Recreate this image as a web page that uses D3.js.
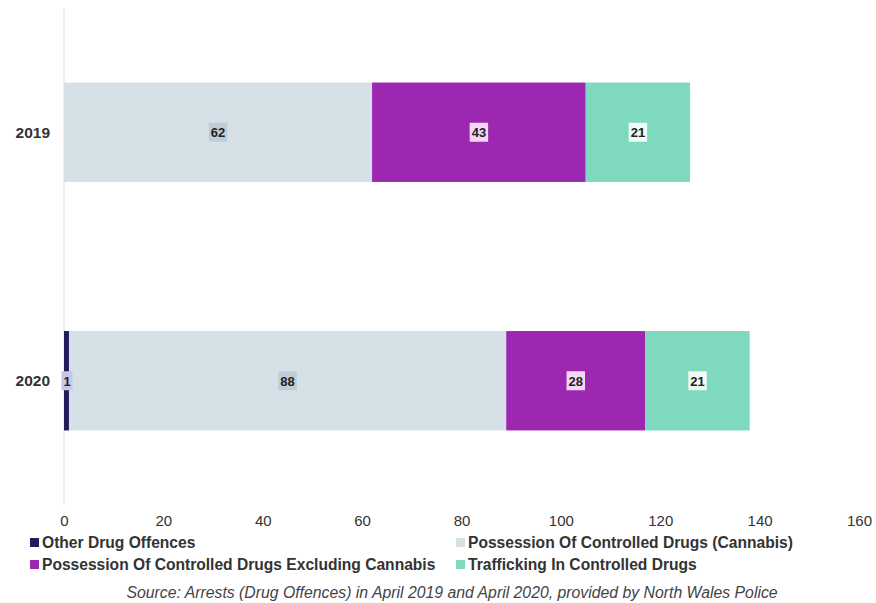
<!DOCTYPE html>
<html><head><meta charset="utf-8">
<script src="https://cdn.jsdelivr.net/npm/d3@7"></script>
<style>body{margin:0;background:#fff}</style>
</head><body>
<svg id="c" width="876" height="603"></svg>
<script>
const years = ["2019", "2020"];
const seriesNames = ["Other Drug Offences", "Possession Of Controlled Drugs (Cannabis)", "Possession Of Controlled Drugs Excluding Cannabis", "Trafficking In Controlled Drugs"];
const otherDrug = [0, 1];
const cannabis = [62, 88];
const excludingCannabis = [43, 28];
const trafficking = [21, 21];
const xTicks = [0, 20, 40, 60, 80, 100, 120, 140, 160];
const colors = ["#211c5c", "#d6e1e7", "#9c27b0", "#7ed9bf"];
const labelBg = ["#cac8ea", "#bfcdd7", "#f4d6f7", "#eefaf6"];
const sourceText = "Source: Arrests (Drug Offences) in April 2019 and April 2020, provided by North Wales Police";

const svg = d3.select("#c");
const x = d3.scaleLinear().domain([0, 160]).range([64, 859]);
const y = d3.scaleBand().domain(years).range([8, 505]).paddingInner(0.6).paddingOuter(0.3);

const table = years.map((yr, i) => ({year: yr, v: [otherDrug[i], cannabis[i], excludingCannabis[i], trafficking[i]]}));
const stack = d3.stack().keys([0,1,2,3]).value((d, k) => d.v[k])(table);

svg.append("line").attr("x1", x(0)).attr("x2", x(0)).attr("y1", 8).attr("y2", 505)
  .attr("stroke", "#e3e6ea").attr("stroke-width", 1.5);

stack.forEach((layer, k) => {
  svg.append("g").selectAll("rect").data(layer).join("rect")
    .attr("x", d => x(d[0])).attr("width", d => x(d[1]) - x(d[0]))
    .attr("y", d => y(d.data.year)).attr("height", y.bandwidth())
    .attr("fill", colors[k]);
});

stack.forEach((layer, k) => {
  layer.forEach(d => {
    const val = d[1] - d[0];
    if (!val) return;
    const cx = Math.max((x(d[0]) + x(d[1])) / 2, x(0) + 3);
    const cy = y(d.data.year) + y.bandwidth() / 2;
    const g = svg.append("g");
    const t = g.append("text").attr("x", cx).attr("y", cy + 5).attr("text-anchor", "middle")
      .attr("font-family", "Liberation Sans, Arial, sans-serif").attr("font-weight", "bold")
      .attr("font-size", 13).attr("fill", "#222").text(val);
    const bb = t.node().getBBox();
    g.insert("rect", "text").attr("x", bb.x - 2).attr("y", cy - 9.5).attr("width", bb.width + 4).attr("height", 19)
      .attr("fill", labelBg[k]);
  });
});

svg.append("g").selectAll("text").data(years).join("text")
  .attr("x", 50).attr("y", d => y(d) + y.bandwidth() / 2 + 5.5).attr("text-anchor", "end")
  .attr("font-family", "Liberation Sans, Arial, sans-serif").attr("font-weight", "bold")
  .attr("font-size", 15.5).attr("fill", "#333").text(d => d);

const xAxis = svg.append("g").attr("transform", "translate(0,515)")
  .call(d3.axisBottom(x).tickValues(xTicks).tickSize(0).tickPadding(0));
xAxis.select(".domain").remove();
xAxis.selectAll("text").attr("font-family", "Liberation Sans Narrow, Arial Narrow, sans-serif")
  .attr("font-size", 15).attr("fill", "#333").attr("dy", "0.71em");

const legPos = [[30, 543], [456, 543], [30, 565], [456, 565]];
seriesNames.forEach((n, k) => {
  const [lx, ly] = legPos[k];
  svg.append("rect").attr("x", lx).attr("y", ly - 5).attr("width", 9).attr("height", 9).attr("fill", colors[k]);
  svg.append("text").attr("x", lx + 12).attr("y", ly + 5)
    .attr("font-family", "Liberation Sans Narrow, Arial Narrow, sans-serif").attr("font-weight", "bold")
    .attr("font-size", 15.6).attr("fill", "#333").text(n);
});

svg.append("text").attr("x", 452).attr("y", 598).attr("text-anchor", "middle")
  .attr("font-family", "Liberation Sans Narrow, Arial Narrow, sans-serif").attr("font-style", "italic")
  .attr("font-size", 15.8).attr("fill", "#444").text(sourceText);
</script>
</body></html>
